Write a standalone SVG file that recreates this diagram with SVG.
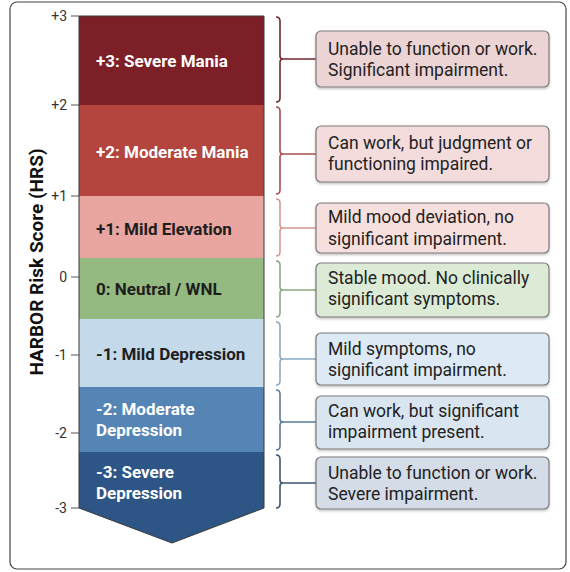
<svg xmlns="http://www.w3.org/2000/svg" width="570" height="572" viewBox="0 0 570 572">
<defs>
<filter id="sh" x="-5%" y="-10%" width="110%" height="130%"><feDropShadow dx="0" dy="1.5" stdDeviation="1.2" flood-color="#000" flood-opacity="0.25"/></filter>
<style>
.band{stroke:none}
.bl{font-family:Roboto,"Liberation Sans",sans-serif;font-weight:700;font-size:17px;fill:#fff}
.bd{fill:#1e1e1e}
.tk{font-family:Roboto,"Liberation Sans",sans-serif;font-size:14px;fill:#333;text-anchor:end}
.tl{stroke:#555;stroke-width:1}
.box{stroke:#7a7a7a;stroke-width:1.2;filter:url(#sh)}
.bt{font-family:Roboto,"Liberation Sans",sans-serif;font-size:17.5px;fill:#222}
.br{fill:none;stroke-width:1.6}
.ax{font-family:Roboto,"Liberation Sans",sans-serif;font-weight:700;font-size:19px;fill:#111}
</style>
</defs>
<rect x="10" y="2" width="556" height="567" rx="7" fill="#fff" stroke="#444" stroke-width="1.2"/>
<text class="ax" transform="translate(43,262) rotate(-90)" text-anchor="middle">HARBOR Risk Score (HRS)</text>
<g id="axis">
<line class="tl" x1="71" y1="16" x2="79" y2="16"/><text class="tk" x="67" y="21">+3</text>
<line class="tl" x1="71" y1="105" x2="79" y2="105"/><text class="tk" x="67" y="110">+2</text>
<line class="tl" x1="71" y1="196" x2="79" y2="196"/><text class="tk" x="67" y="201">+1</text>
<line class="tl" x1="71" y1="277" x2="79" y2="277"/><text class="tk" x="67" y="282">0</text>
<line class="tl" x1="71" y1="355" x2="79" y2="355"/><text class="tk" x="67" y="360">-1</text>
<line class="tl" x1="71" y1="433" x2="79" y2="433"/><text class="tk" x="67" y="438">-2</text>
<line class="tl" x1="71" y1="508" x2="79" y2="508"/><text class="tk" x="67" y="513">-3</text>
</g>
<g id="band-p3"><rect class="band" x="79" y="16" width="185" height="89" fill="#7d1f26"/><text class="bl" x="96" y="67">+3: Severe Mania</text></g>
<g id="band-p2"><rect class="band" x="79" y="105" width="185" height="91" fill="#b3443e"/><text class="bl" x="96" y="158">+2: Moderate Mania</text></g>
<g id="band-p1"><rect class="band" x="79" y="196" width="185" height="62" fill="#e9a6a1"/><text class="bl bd" x="96" y="235">+1: Mild Elevation</text></g>
<g id="band-0"><rect class="band" x="79" y="258" width="185" height="61" fill="#94b981"/><text class="bl bd" x="96" y="295">0: Neutral / WNL</text></g>
<g id="band-m1"><rect class="band" x="79" y="319" width="185" height="68" fill="#c4d9ea"/><text class="bl bd" x="96" y="360">-1: Mild Depression</text></g>
<g id="band-m2"><rect class="band" x="79" y="387" width="185" height="65" fill="#5485b4"/><text class="bl" x="96" y="415">-2: Moderate</text><text class="bl" x="96" y="436">Depression</text></g>
<g id="band-m3"><path class="band" d="M79,452 H264 V508 L172,543 L79,508 Z" fill="#2d5586"/><text class="bl" x="96" y="478">-3: Severe</text><text class="bl" x="96" y="499">Depression</text></g>
<path d="M79,16 H264 V508 L172,543 L79,508 Z" fill="none" stroke="#3a3a3a" stroke-width="1"/>
<g id="connectors">
<path class="br" stroke="#6e2a30" d="M276,17 Q280,17 280,21 V56 Q280,59 283,59 Q280,59 280,62 V98 Q280,102 276,102 M283,59 H316"/>
<path class="br" stroke="#a8504c" d="M276,107 Q280,107 280,111 V151 Q280,154 283,154 Q280,154 280,157 V190 Q280,194 276,194 M283,154 H316"/>
<path class="br" stroke="#d49794" d="M276,199 Q280,199 280,203 V225 Q280,228 283,228 Q280,228 280,231 V252 Q280,256 276,256 M283,228 H316"/>
<path class="br" stroke="#8aaa7e" d="M276,261 Q280,261 280,265 V287 Q280,290 283,290 Q280,290 280,293 V313 Q280,317 276,317 M283,290 H316"/>
<path class="br" stroke="#8aaac4" d="M276,322 Q280,322 280,326 V356 Q280,359 283,359 Q280,359 280,362 V381 Q280,385 276,385 M283,359 H316"/>
<path class="br" stroke="#5a7c9a" d="M276,390 Q280,390 280,394 V419 Q280,422 283,422 Q280,422 280,425 V446 Q280,450 276,450 M283,422 H316"/>
<path class="br" stroke="#3e5672" d="M276,455 Q280,455 280,459 V480 Q280,483 283,483 Q280,483 280,486 V504 Q280,508 276,508 M283,483 H316"/>
</g>
<g id="desc-p3"><rect class="box" x="316" y="31" width="233" height="56" rx="5" fill="#edd4d4"/><text class="bt" x="328" y="55">Unable to function or work.</text><text class="bt" x="328" y="76">Significant impairment.</text></g>
<g id="desc-p2"><rect class="box" x="316" y="126" width="233" height="56" rx="5" fill="#f3dcdb"/><text class="bt" x="328" y="149">Can work, but judgment or</text><text class="bt" x="328" y="170">functioning impaired.</text></g>
<g id="desc-p1"><rect class="box" x="316" y="203" width="233" height="50" rx="5" fill="#f7dfdd"/><text class="bt" x="328" y="223">Mild mood deviation, no</text><text class="bt" x="328" y="245">significant impairment.</text></g>
<g id="desc-0"><rect class="box" x="316" y="263" width="233" height="54" rx="5" fill="#dcebd5"/><text class="bt" x="328" y="284">Stable mood. No clinically</text><text class="bt" x="328" y="305">significant symptoms.</text></g>
<g id="desc-m1"><rect class="box" x="316" y="333" width="233" height="52" rx="5" fill="#dde9f4"/><text class="bt" x="328" y="355">Mild symptoms, no</text><text class="bt" x="328" y="376">significant impairment.</text></g>
<g id="desc-m2"><rect class="box" x="316" y="396" width="233" height="53" rx="5" fill="#d9e6f1"/><text class="bt" x="328" y="417">Can work, but significant</text><text class="bt" x="328" y="438">impairment present.</text></g>
<g id="desc-m3"><rect class="box" x="316" y="457" width="233" height="52" rx="5" fill="#d4dce7"/><text class="bt" x="328" y="479">Unable to function or work.</text><text class="bt" x="328" y="500">Severe impairment.</text></g>
</svg>
